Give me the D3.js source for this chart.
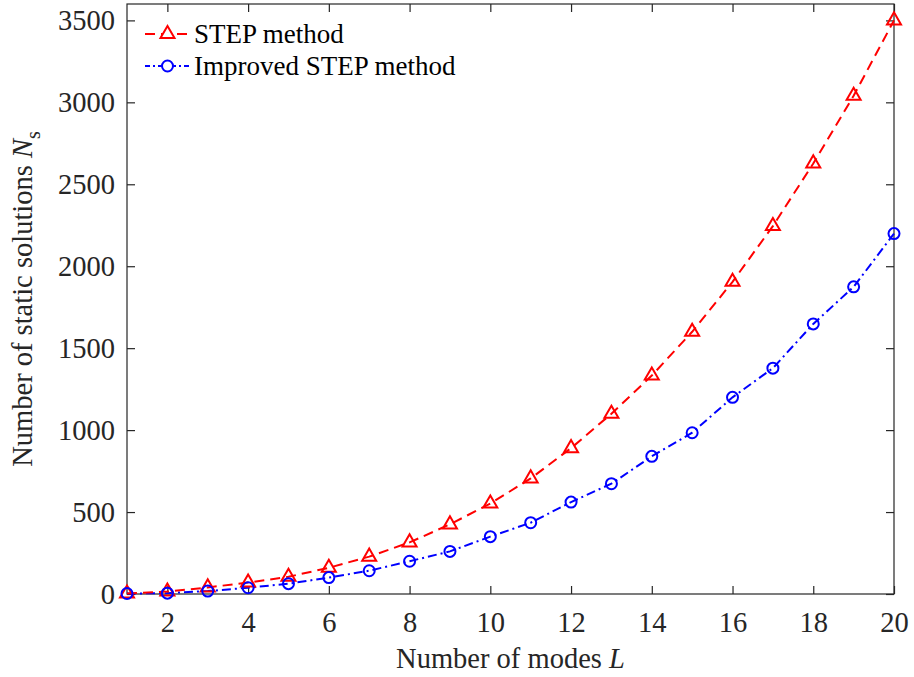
<!DOCTYPE html>
<html>
<head>
<meta charset="utf-8">
<script src="https://cdn.jsdelivr.net/npm/d3@7"></script>
<style>
  body { margin: 0; background: #fff; }
</style>
</head>
<body>
<svg id="chart"></svg>
<script>
const modes = d3.range(1, 21);
const stepValues = [3, 15, 40, 70, 105, 160, 228, 315, 425, 552, 705, 890, 1100, 1333, 1600, 1905, 2245, 2627, 3040, 3500];
const improvedValues = [3, 5, 18, 38, 63, 100, 142, 200, 260, 350, 435, 561, 673, 840, 984, 1200, 1378, 1648, 1874, 2199];
const xTicks = [2, 4, 6, 8, 10, 12, 14, 16, 18, 20];
const yTicks = [0, 500, 1000, 1500, 2000, 2500, 3000, 3500];
const seriesNames = ['STEP method', 'Improved STEP method'];

const width = 914, height = 677;
const margin = {left: 127, right: 20, top: 4, bottom: 83};
const fontFam = "'Liberation Serif', Tinos, 'DejaVu Serif', serif";

const svg = d3.select('#chart')
    .attr('width', width)
    .attr('height', height)
    .style('font-family', fontFam);

const x = d3.scaleLinear()
    .domain([1, 20])
    .range([margin.left, width - margin.right]);
const y = d3.scaleLinear()
    .domain([0, 3600])
    .range([height - margin.bottom, margin.top]);

const tickLen = 8;
const axisColor = '#262626';

// box
svg.append('rect')
    .attr('x', x(1))
    .attr('y', y(3600))
    .attr('width', x(20) - x(1))
    .attr('height', y(0) - y(3600))
    .attr('fill', 'none')
    .attr('stroke', axisColor)
    .attr('stroke-width', 1.2);

// axes with inward ticks
const xAxis = d3.axisBottom(x).tickValues(xTicks).tickSizeInner(-tickLen).tickSizeOuter(0).tickPadding(18);
const gx = svg.append('g')
    .attr('transform', 'translate(0,' + y(0) + ')')
    .call(xAxis);
const xTop = d3.axisTop(x).tickValues(xTicks).tickSizeInner(-tickLen).tickSizeOuter(0).tickFormat('');
const gxt = svg.append('g')
    .attr('transform', 'translate(0,' + y(3600) + ')')
    .call(xTop);
const yAxis = d3.axisLeft(y).tickValues(yTicks).tickFormat(d3.format('d')).tickSizeInner(-tickLen).tickSizeOuter(0).tickPadding(12);
const gy = svg.append('g')
    .attr('transform', 'translate(' + x(1) + ',0)')
    .call(yAxis);
const yRight = d3.axisRight(y).tickValues(yTicks).tickSizeInner(-tickLen).tickSizeOuter(0).tickFormat('');
const gyr = svg.append('g')
    .attr('transform', 'translate(' + x(20) + ',0)')
    .call(yRight);

for (const g of [gx, gxt, gy, gyr]) {
    g.attr('font-family', null).attr('font-size', null);
    g.select('.domain').remove();
    g.selectAll('line').attr('stroke', axisColor).attr('stroke-width', 1.2);
    g.selectAll('text')
        .style('font-family', fontFam)
        .style('font-size', '28.5px')
        .attr('fill', axisColor);
}

// series
const line = d3.line()
    .x((d, i) => x(modes[i]))
    .y(d => y(d));

svg.append('path')
    .datum(improvedValues)
    .attr('d', line)
    .attr('fill', 'none')
    .attr('stroke', '#0000ff')
    .attr('stroke-width', 2)
    .attr('stroke-dasharray', '9,4,2,4');

svg.append('path')
    .datum(stepValues)
    .attr('d', line)
    .attr('fill', 'none')
    .attr('stroke', '#ff0000')
    .attr('stroke-width', 2)
    .attr('stroke-dasharray', '10,6');

const triangle = d3.symbol().type(d3.symbolTriangle).size(85);

svg.append('g').selectAll('path')
    .data(stepValues)
    .join('path')
    .attr('d', triangle)
    .attr('transform', (d, i) => 'translate(' + x(modes[i]) + ',' + y(d) + ')')
    .attr('fill', 'none')
    .attr('stroke', '#ff0000')
    .attr('stroke-width', 2);

svg.append('g').selectAll('circle')
    .data(improvedValues)
    .join('circle')
    .attr('cx', (d, i) => x(modes[i]))
    .attr('cy', d => y(d))
    .attr('r', 5.5)
    .attr('fill', 'none')
    .attr('stroke', '#0000ff')
    .attr('stroke-width', 2);

// legend
const legend = svg.append('g');
const legendRows = [
    {name: seriesNames[0], color: '#ff0000', dash: '10,6', marker: 'tri', yPos: 34},
    {name: seriesNames[1], color: '#0000ff', dash: '5,3,2,3', marker: 'circ', yPos: 66}
];
for (const r of legendRows) {
    legend.append('line')
        .attr('x1', 145).attr('x2', 190)
        .attr('y1', r.yPos).attr('y2', r.yPos)
        .attr('stroke', r.color)
        .attr('stroke-width', 2)
        .attr('stroke-dasharray', r.dash);
    if (r.marker === 'tri') {
        legend.append('path')
            .attr('d', triangle)
            .attr('transform', 'translate(167.5,' + r.yPos + ')')
            .attr('fill', '#fff')
            .attr('stroke', r.color)
            .attr('stroke-width', 2);
    } else {
        legend.append('circle')
            .attr('cx', 167.5).attr('cy', r.yPos).attr('r', 5.5)
            .attr('fill', '#fff')
            .attr('stroke', r.color)
            .attr('stroke-width', 2);
    }
    legend.append('text')
        .attr('x', 194)
        .attr('y', r.yPos + 9)
        .style('font-family', fontFam)
        .style('font-size', '27px')
        .attr('fill', '#000')
        .text(r.name);
}

// axis labels
const xl = svg.append('text')
    .attr('x', (x(1) + x(20)) / 2)
    .attr('y', 668)
    .attr('text-anchor', 'middle')
    .attr('fill', axisColor)
    .style('font-family', fontFam)
    .style('font-size', '28.5px');
xl.append('tspan').text('Number of modes ');
xl.append('tspan').style('font-style', 'italic').text('L');

const yl = svg.append('text')
    .attr('transform', 'translate(32,' + (y(1800)) + ') rotate(-90)')
    .attr('text-anchor', 'middle')
    .attr('fill', axisColor)
    .style('font-family', fontFam)
    .style('font-size', '28.5px');
yl.append('tspan').text('Number of static solutions ');
yl.append('tspan').style('font-style', 'italic').text('N');
yl.append('tspan').attr('dy', 8).style('font-size', '20px').text('s');
</script>
</body>
</html>
